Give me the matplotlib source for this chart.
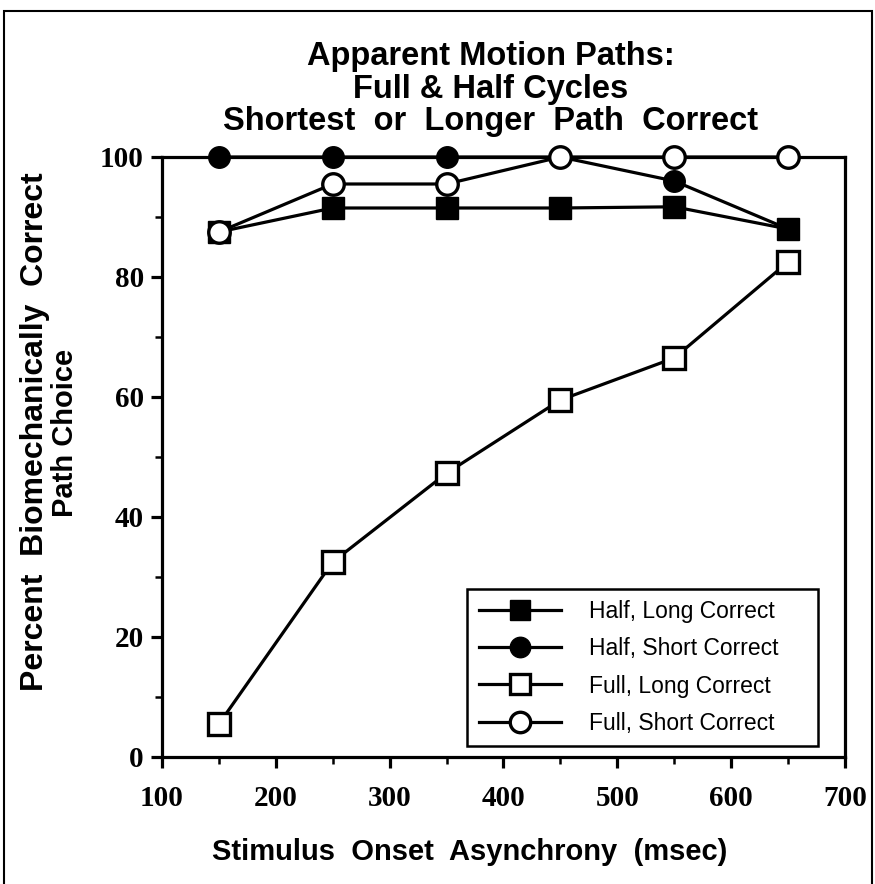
import matplotlib
matplotlib.use("Agg")
import matplotlib.pyplot as plt
from matplotlib.patches import Rectangle
from matplotlib.ticker import MultipleLocator

# Dane
soa = [150, 250, 350, 450, 550, 650]
half_long = [87.5, 91.5, 91.5, 91.5, 91.7, 88]
half_short = [100, 100, 100, 100, 96, 88]
full_long = [5.5, 32.5, 47.3, 59.5, 66.5, 82.5]
full_short = [87.5, 95.5, 95.5, 100, 100, 100]

labels = ["Half, Long Correct", "Half, Short Correct",
          "Full, Long Correct", "Full, Short Correct"]

sans = ["Liberation Sans", "DejaVu Sans"]
serif = ["Liberation Serif", "DejaVu Serif"]

fig = plt.figure(figsize=(8.75, 8.84), dpi=100)
ax = fig.add_axes([0.1851, 0.1437, 0.7806, 0.6787])

lw = 2.3
h2, = ax.plot(soa, half_short, "-o", color="black", lw=lw, ms=15.5,
              mfc="black", mec="black", zorder=3)
h1, = ax.plot(soa, half_long, "-s", color="black", lw=lw, ms=15.5,
              mfc="black", mec="black", zorder=4)
h3, = ax.plot(soa, full_long, "-s", color="black", lw=lw, ms=15.5,
              mfc="white", mec="black", mew=2.4, zorder=5)
h4, = ax.plot(soa, full_short, "-o", color="black", lw=lw, ms=15.5,
              mfc="white", mec="black", mew=2.4, zorder=6)
for h in (h1, h2, h3, h4):
    h.set_clip_on(False)

ax.set_xlim(100, 700)
ax.set_ylim(0, 100)
ax.xaxis.set_major_locator(MultipleLocator(100))
ax.xaxis.set_minor_locator(MultipleLocator(50))
ax.yaxis.set_major_locator(MultipleLocator(20))
ax.yaxis.set_minor_locator(MultipleLocator(10))
ax.tick_params(which="major", direction="out", length=8, width=2.3)
ax.tick_params(axis="x", which="major", pad=12)
ax.tick_params(axis="y", which="major", pad=5)
ax.tick_params(which="minor", direction="out", length=5, width=1.8)
for s in ax.spines.values():
    s.set_linewidth(2.3)

for t in ax.get_xticklabels() + ax.get_yticklabels():
    t.set_family(serif)
    t.set_fontweight("bold")
    t.set_fontsize(21)

ax.set_xlabel("Stimulus  Onset  Asynchrony  (msec)", family=sans,
              fontweight="bold", fontsize=21)
ax.xaxis.set_label_coords(0.451, -0.135)

# Opis osi Y w dwóch liniach
fig.text(0.040, 0.512, "Percent  Biomechanically  Correct", rotation=90,
         ha="center", va="center", family=sans, fontweight="bold",
         fontsize=23)
fig.text(0.074, 0.510, "Path Choice", rotation=90, ha="center",
         va="center", family=sans, fontweight="bold", fontsize=21)

fig.text(0.561, 0.899, "Apparent Motion Paths:\nFull & Half Cycles\n"
         "Shortest  or  Longer  Path  Correct", ha="center", va="center",
         family=sans, fontweight="bold", fontsize=23.5, linespacing=1.06)

leg = ax.legend([h1, h2, h3, h4], labels, loc="lower left",
                bbox_to_anchor=(0.447, 0.018, 0.513, 0.27), mode="expand",
                prop={"family": sans, "size": 16.5}, handlelength=3.6,
                handletextpad=1.2, labelspacing=0.62, borderpad=0.5,
                borderaxespad=0, fancybox=False, framealpha=1,
                edgecolor="black", markerscale=0.95)
leg.get_frame().set_linewidth(1.8)

# Ramka wokół całego rysunku
fig.patches.append(Rectangle((0.005, -0.01), 0.991, 0.998,
                             transform=fig.transFigure, fill=False,
                             edgecolor="black", lw=1.5))

fig.savefig("out.png", dpi=100)
